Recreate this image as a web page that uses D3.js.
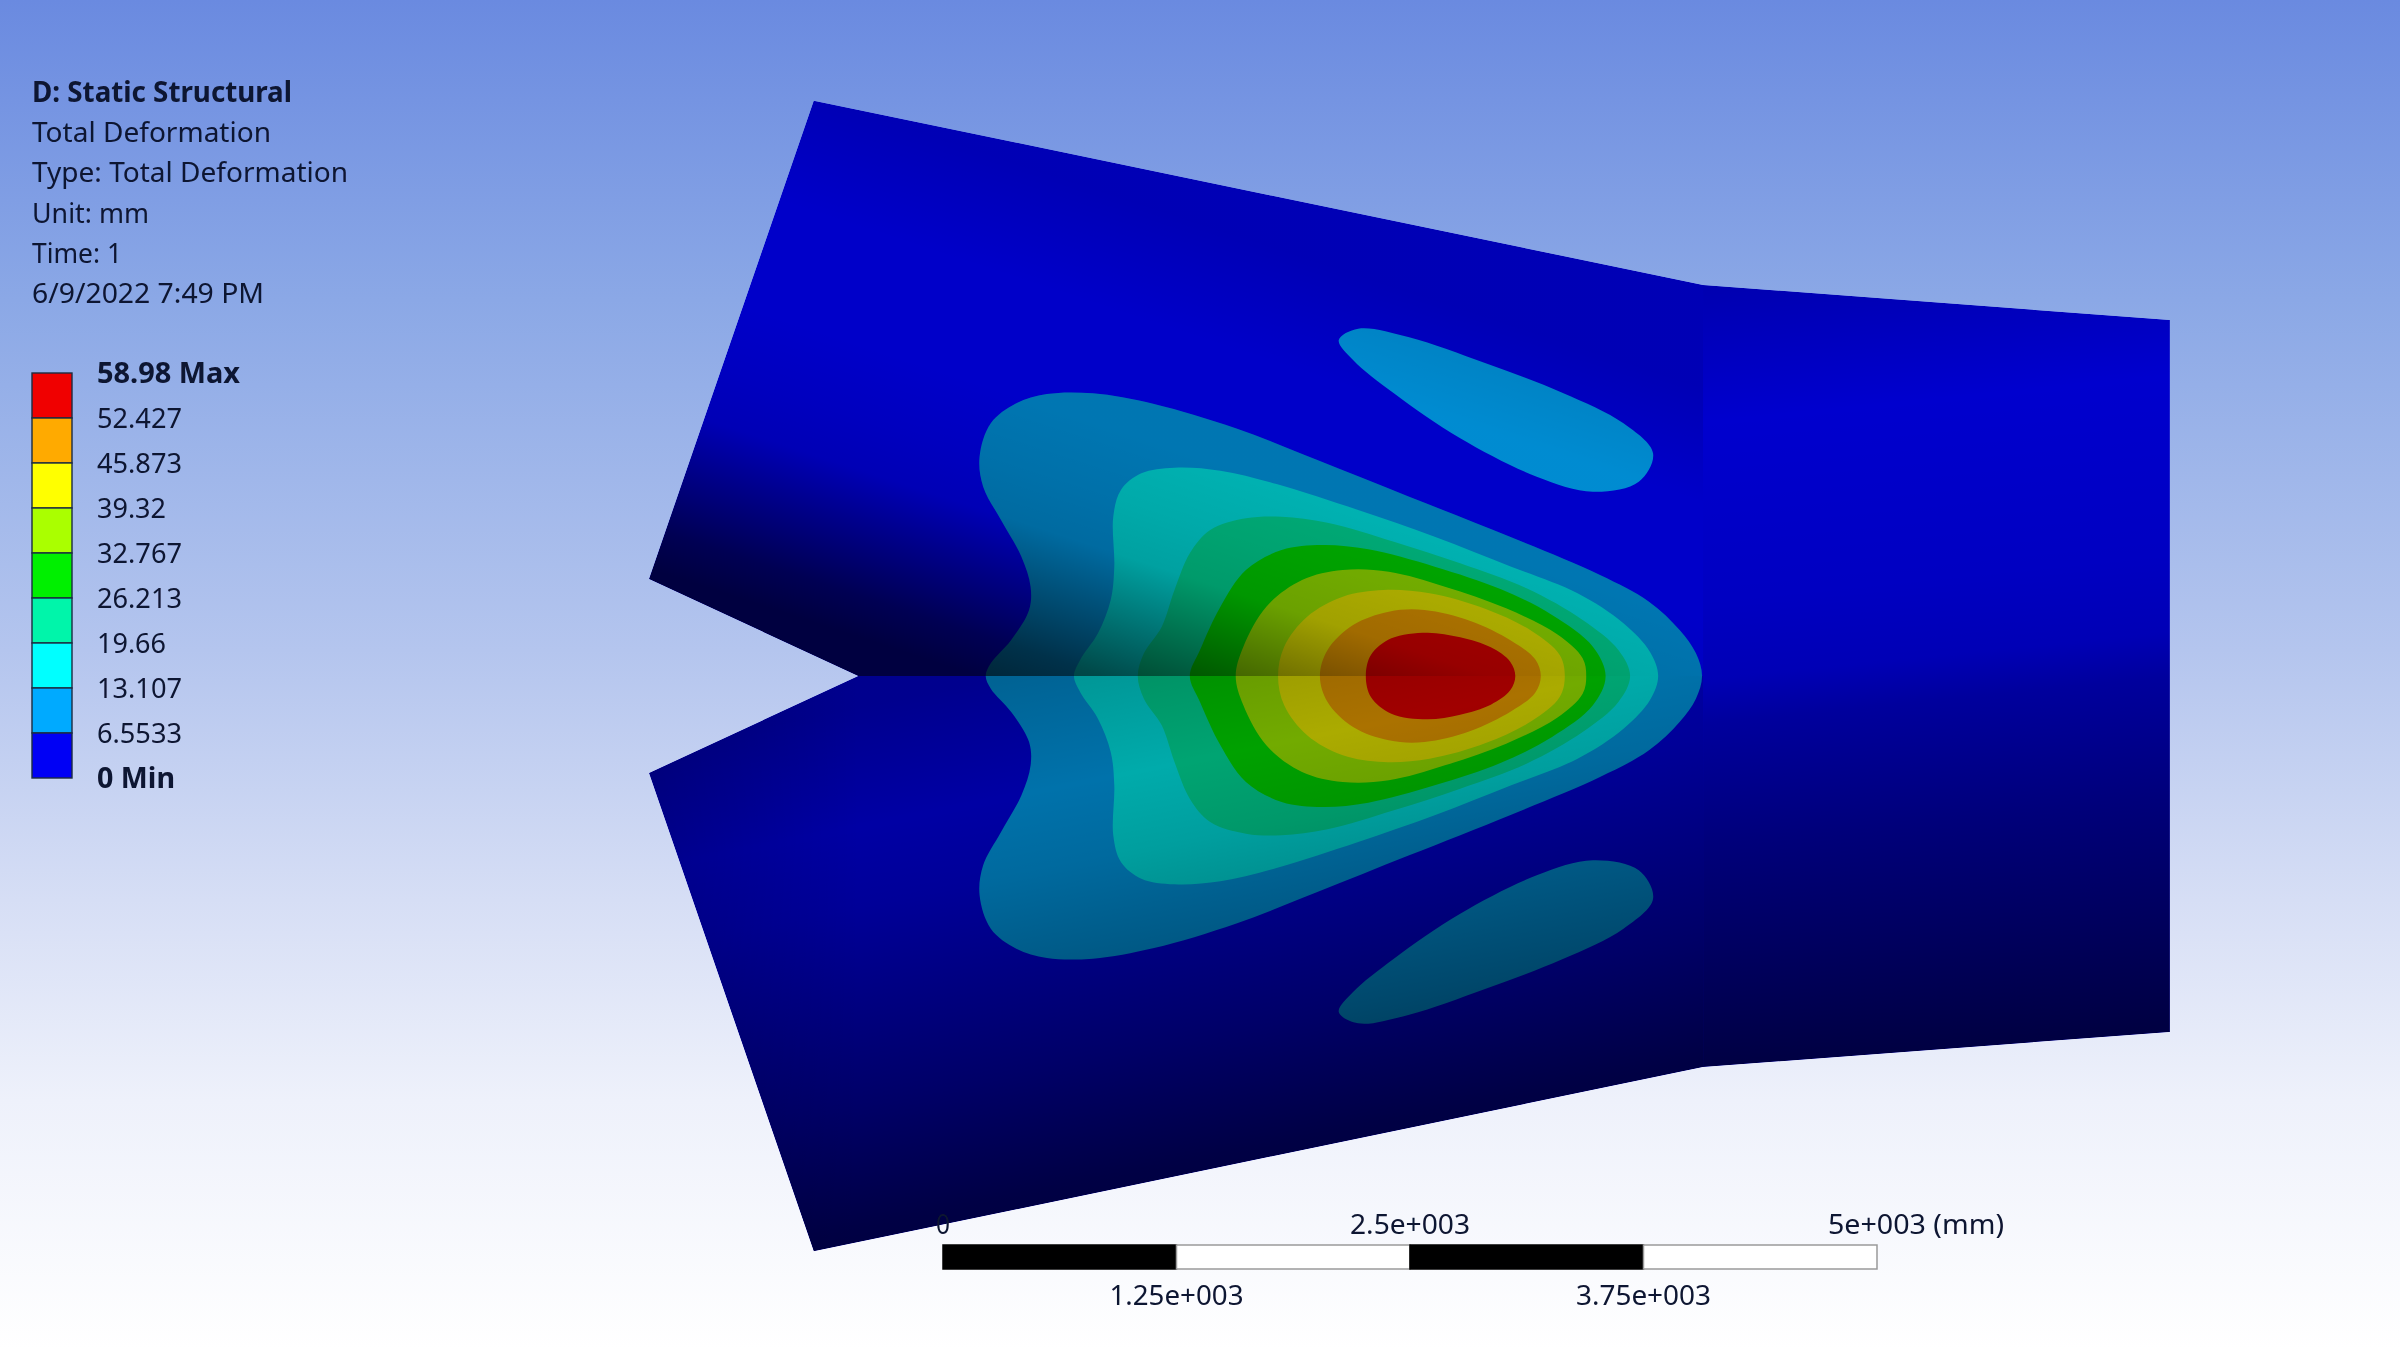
<!DOCTYPE html>
<html><head><meta charset="utf-8">
<style>html,body{margin:0;padding:0;background:#fff}svg{display:block}text{font-family:"Noto Sans",sans-serif;fill:#0c1430}</style>
<script src="https://cdn.jsdelivr.net/npm/d3@7"></script>
</head><body><svg id="c" width="2400" height="1350"></svg>
<script>
// ---------- data ----------
const headerLines = ["D: Static Structural","Total Deformation","Type: Total Deformation","Unit: mm","Time: 1","6/9/2022 7:49 PM"];
const legendLabels = ["58.98 Max","52.427","45.873","39.32","32.767","26.213","19.66","13.107","6.5533","0 Min"];
const legendColors = ["#f00000","#ffaa00","#ffff00","#aaff00","#00f000","#00f5aa","#00ffff","#00aaff","#0000f5"];
const scaleTicks = [0,1250,2500,3750,5000];
const scaleTop = ["0","2.5e+003","5e+003 (mm)"];
const scaleBottom = ["1.25e+003","3.75e+003"];
const seam = 1128;               // symmetry line of the plate, digitised frame
const plateUpper = [[-180,1128],[-590,837],[-267,-598],[1476,-45],[2391,60]];
const c655 = [[70,1128],[80,1090],[120,1020],[155,930],[158,860],[140,770],[100,660],[65,560],[58,470],[80,370],[130,310],[190,282],[280,280],[400,312],[560,385],[720,480],[900,590],[1100,712],[1274,825],[1370,905],[1430,990],[1462,1060],[1474,1128]];
const c131 = [[243,1128],[255,1080],[290,1000],[315,900],[322,800],[320,650],[335,570],[375,520],[440,503],[530,512],[640,552],[800,630],[950,710],[1100,800],[1230,880],[1320,970],[1372,1056],[1388,1128]];
const c197 = [[368,1128],[380,1060],[415,980],[440,870],[470,760],[510,690],[580,655],[650,650],[740,668],[870,725],[1000,790],[1130,865],[1240,960],[1310,1050],[1333,1128]];
const c262 = [[470,1128],[490,1050],[530,920],[580,810],[650,750],[730,735],[820,748],[950,800],[1080,868],[1180,945],[1260,1040],[1285,1128]];
const c328 = [[560,1128],[575,1040],[620,920],[690,840],[770,810],[860,815],[970,860],[1090,925],[1190,1003],[1240,1075],[1247,1128]];
const c393 = [[643,1128],[655,1040],[700,950],[770,890],[850,870],[940,880],[1050,927],[1140,993],[1195,1065],[1205,1128]];
const c459 = [[725,1128],[740,1050],[790,975],[860,935],[930,930],[1020,963],[1100,1022],[1147,1078],[1158,1128]];
const c524 = [[815,1128],[825,1065],[865,1015],[935,998],[1000,1012],[1060,1042],[1098,1085],[1108,1128]];
const island = [[762,120],[800,86],[900,112],[1050,190],[1200,278],[1320,370],[1378,460],[1350,545],[1260,575],[1150,530],[1000,415],[870,280],[790,180]];
const contours = [c655,c131,c197,c262,c328,c393,c459,c524];

// ---------- style ----------
const headerW = [260,239,316,117,90,232];
const legendW = [143,85,85,69,85,85,69,85,85,78];
const shadeUL = [[-160,.74],[-50,.82],[60,.82],[130,.78],[180,.74],[230,.57],[300,.34],[340,.26]];
const shadeLL = [[880,.58],[1000,.67],[1080,.62],[1200,.50],[1280,.42],[1400,.28],[1450,.25]];
const shadeR  = [[285,.72],[420,.84],[600,.79],[676,.74],[720,.64],[840,.50],[950,.39],[1066,.27]];
const bgStops = [[0,"#6a8ae0"],[300,"#8ba8e6"],[650,"#b4c5ee"],[900,"#d6def5"],[1100,"#eef1fb"],[1350,"#ffffff"]];

// ---------- scales ----------
const x = d3.scaleLinear().domain([0,1568]).range([950,1750]);
const y = d3.scaleLinear().domain([0,1200]).range([300,700]);
const barX = d3.scaleLinear().domain([0,5000]).range([943,1877]);
const legY = d3.scalePoint().domain(legendLabels).range([373,778]);
const legBand = d3.scaleBand().domain(legendColors).range([373,778]);
const mirror = p => [p[0], 2*seam-p[1]];

const svg = d3.select("#c");
const defs = svg.append("defs");
function grad(id,x1,y1,x2,y2,stops){
  const g = defs.append("linearGradient").attr("id",id).attr("gradientUnits","userSpaceOnUse")
    .attr("x1",x1).attr("y1",y1).attr("x2",x2).attr("y2",y2);
  stops.forEach(s=>g.append("stop").attr("offset",s[0]).attr("stop-color",s[1]).attr("stop-opacity",s[2]===undefined?1:s[2]));
}
grad("bg",0,0,0,1350,bgStops.map(s=>[s[0]/1350,s[1]]));
svg.append("rect").attr("width",2400).attr("height",1350).attr("fill","url(#bg)");

function tiltGrad(id,nx,ny,stops,ox,oy){
  const t0=stops[0][0],t1=stops[stops.length-1][0];
  grad(id,(ox||0)+nx*t0,(oy||0)+ny*t0,(ox||0)+nx*t1,(oy||0)+ny*t1,stops.map(s=>[(s[0]-t0)/(t1-t0),"#000",1-s[1]]));
}
tiltGrad("sUL",-0.31,0.95,shadeUL);
tiltGrad("sLL",.196,.98,shadeLL.map(s=>[s[0]*.98,s[1]]));
tiltGrad("sR",.1,.995,shadeR,1704,0);
grad("sLeft",649,0,860,0,[[0,"#000",.15],[1,"#000",0]]);

const blur = defs.append("filter").attr("id","soft").attr("x","-5%").attr("y","-20%").attr("width","110%").attr("height","140%");
blur.append("feGaussianBlur").attr("stdDeviation",0.55);

const poly = d3.line().x(d=>x(d[0])).y(d=>y(d[1]));
const smooth = d3.line().x(d=>x(d[0])).y(d=>y(d[1])).curve(d3.curveCatmullRomClosed.alpha(0.5));

const lowerOutline = plateUpper.map(mirror).reverse();
const plate = plateUpper.concat(lowerOutline.slice(0,-1));
const corner = plateUpper[3], rightTop = plateUpper[4];
const facetUL = plateUpper.slice(0,4).concat([[corner[0],seam]]);
const facetLL = facetUL.map(mirror);
const facetR  = [corner,rightTop,mirror(rightTop),mirror(corner)];

defs.append("clipPath").attr("id","clipPlate").append("path").attr("d",poly(plate)+"Z");
defs.append("clipPath").attr("id","clipUL").append("path").attr("d",poly(facetUL)+"Z");

const model = svg.append("g").attr("clip-path","url(#clipPlate)");
model.append("path").attr("d",poly(plate)+"Z").attr("fill",legendColors[8]);

const closedBand = c => smooth(c.concat(c.slice(1,-1).map(mirror).reverse()));
contours.forEach((c,i)=>{
  model.append("path").attr("d",closedBand(c)).attr("fill",legendColors[7-i]);
});
[island, island.map(mirror)].forEach(c=>model.append("path").attr("d",smooth(c)).attr("fill",legendColors[7]));

// bands of the upper facet read dimmer than the surrounding blue
svg.append("g").attr("clip-path","url(#clipUL)").append("path")
  .attr("d",closedBand(c655)).attr("fill","#000").attr("fill-opacity",.15);

// lighting on the three facets
const light = svg.append("g").attr("clip-path","url(#clipPlate)");
light.append("path").attr("d",poly(facetUL)+"Z").attr("fill","url(#sUL)");
light.append("path").attr("d",poly(facetLL)+"Z").attr("fill","url(#sLL)");
light.append("path").attr("d",poly(facetLL)+"Z").attr("fill","url(#sLeft)");
light.append("path").attr("d",poly(facetR)+"Z").attr("fill","url(#sR)");

// header text
const txt = svg.append("g").attr("filter","url(#soft)");
const fit = (sel,w)=>sel.attr("textLength",w).attr("lengthAdjust","spacingAndGlyphs");
const headerY = d3.scalePoint().domain(d3.range(headerLines.length)).range([102,303]);
headerLines.forEach((t,i)=>{
  fit(txt.append("text").attr("x",32).attr("y",headerY(i)).attr("font-size",28)
    .attr("font-weight",i===0?700:400).text(t),headerW[i]);
});

// legend
svg.append("g").selectAll("rect").data(legendColors).join("rect")
  .attr("x",32).attr("width",40).attr("y",d=>legBand(d)).attr("height",legBand.bandwidth())
  .attr("fill",d=>d).attr("stroke","#1c2c40").attr("stroke-width",1.4);
legendLabels.forEach((t,i)=>{
  fit(txt.append("text").attr("x",97).attr("y",legY(t)+10).attr("font-size",28)
    .attr("font-weight",(i===0||i===9)?700:400).text(t),legendW[i]);
});

// scale bar
const segs = d3.pairs(scaleTicks);
svg.append("g").selectAll("rect").data(segs).join("rect")
  .attr("x",d=>barX(d[0])).attr("width",d=>barX(d[1])-barX(d[0])).attr("y",1245).attr("height",24)
  .attr("fill",(d,i)=>i%2?"#ffffff":"#000000").attr("stroke",(d,i)=>i%2?"#9a9a9a":"#000").attr("stroke-width",1.5);
const tickLab = (t,v,yy,w,anchor,dx)=>fit(txt.append("text").attr("x",barX(v)+(dx||0)).attr("y",yy)
  .attr("font-size",28).attr("text-anchor",anchor||"middle").text(t),w);
tickLab(scaleTop[0],scaleTicks[0],1234,14);
tickLab(scaleTop[1],scaleTicks[2],1234,120);
tickLab(scaleTop[2],scaleTicks[4],1234,176,"start",-49);
tickLab(scaleBottom[0],scaleTicks[1],1305,134);
tickLab(scaleBottom[1],scaleTicks[3],1305,135);
</script></body></html>
